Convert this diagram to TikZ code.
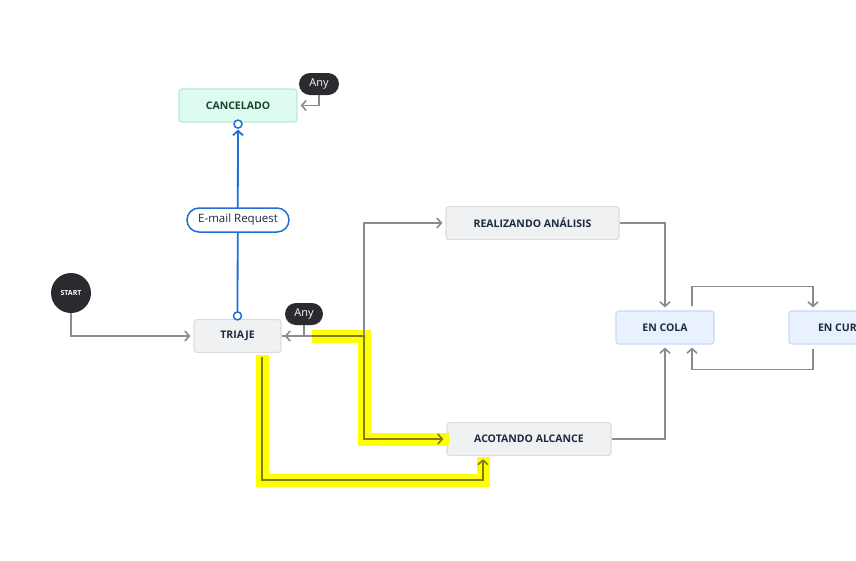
\documentclass[tikz,border=0pt]{standalone}
\usepackage{fontspec}
\setmainfont{Open Sans}
\usetikzlibrary{arrows.meta}
\definecolor{ink}{HTML}{1C2B41}
\definecolor{boxgray}{HTML}{F0F1F3}
\definecolor{boxline}{HTML}{DCDDE1}
\definecolor{mintfill}{HTML}{DDFBEF}
\definecolor{mintline}{HTML}{B3EDD5}
\definecolor{mintink}{HTML}{164532}
\definecolor{bluefill}{HTML}{E9F1FE}
\definecolor{blueline}{HTML}{C6DAF7}
\definecolor{linkblue}{HTML}{1F6FD6}
\definecolor{wire}{HTML}{8A8B92}
\definecolor{olivewire}{HTML}{7E7D10}
\definecolor{badgedark}{HTML}{2A2A2F}
\definecolor{marker}{HTML}{FFFF00}
\tikzset{state/.style={draw=boxline,fill=boxgray,line width=1.2pt,rounded corners=3pt,
           minimum height=33pt,text=ink,font=\bfseries\fontsize{10.5}{12}\selectfont},
         cancelstate/.style={state,draw=mintline,fill=mintfill,text=mintink},
         queuestate/.style={state,draw=blueline,fill=bluefill},
         startnode/.style={circle,fill=badgedark,minimum size=40pt,inner sep=0pt,
           text=white,font=\bfseries\fontsize{7}{8}\selectfont},
         badge/.style={fill=badgedark,rounded corners=11pt,minimum height=22pt,
           minimum width=40pt,inner sep=2pt,text=white,font=\fontsize{11}{12}\selectfont},
         guard/.style={draw=linkblue,fill=white,line width=1.5pt,rounded corners=12pt,
           minimum height=24pt,minimum width=102pt,inner sep=2pt,text=ink,
           font=\fontsize{11.5}{13}\selectfont},
         trans/.style={draw=wire,line width=1.6pt,
           -{Straight Barb[length=4.5pt,width=10pt]},shorten >=3pt},
         hilite/.style={draw=marker,line width=13pt},
         bluelink/.style={draw=linkblue,line width=1.8pt,
           -{Straight Barb[length=4.5pt,width=10pt]}},
         bluering/.style={draw=linkblue,fill=white,line width=1.5pt}
         }
\begin{document}
\begin{tikzpicture}[x=1pt,y=-1pt]
\useasboundingbox (0,0) rectangle (856,560);
\clip (0,0) rectangle (856,560);
% states
\node[startnode] (start) at (71,293) {START};
\node[state,minimum width=87pt] (triaje) at (237.5,336) {TRIAJE};
\node[cancelstate,minimum width=118pt] (cancel) at (238,105.5) {CANCELADO};
\node[state,minimum width=173pt] (real) at (532.5,223) {REALIZANDO ANÁLISIS};
\node[state,minimum width=164pt] (acot) at (529,439) {ACOTANDO ALCANCE};
\node[queuestate,minimum width=98pt] (encola) at (665,327.5) {EN COLA};
\node[queuestate,minimum width=111pt] (encurso) at (844.5,327.5) {EN CURSO};
\node[badge] (anyA) at (319,84) {Any};
\node[badge,minimum width=38pt] (anyB) at (304,314) {Any};
\coordinate (fork) at (364,336);
\coordinate (hlA) at (312,336);
\coordinate (drop) at (262,357);
\coordinate (low) at (262,480);
% highlighted paths
\draw[hilite] (hlA) -- (fork) |- ([xshift=3pt]acot.west);
\draw[hilite] ([yshift=2pt]drop) -- (low) -| ([xshift=-46pt,yshift=-1pt]acot.south);
% transitions
\draw[trans] (start) |- (triaje);
\draw[trans] (anyA.south) |- (cancel.east);
\draw[trans] (anyB.south) |- (triaje.east);
\draw[trans,-,shorten >=0pt] (triaje.east) -- (fork);
\draw[trans] (fork) |- (real.west);
\draw[trans,draw=olivewire] (hlA) -- (fork) |- (acot.west);
\draw[trans,draw=olivewire] (drop) -- (low) -| ([xshift=-46pt]acot.south);
\draw[trans] (real.east) -| (encola.north);
\draw[trans] (acot.east) -| (encola.south);
\draw[trans] ([xshift=27pt,yshift=4pt]encola.north) |- ([xshift=-31.5pt,yshift=24pt]encurso.north)
  -- ([xshift=-31.5pt]encurso.north);
\draw[trans] ([xshift=-31.5pt,yshift=-4pt]encurso.south) |- ([xshift=27pt,yshift=-25pt]encola.south)
  -- ([xshift=27pt]encola.south);
% blue link with guard
\draw[bluelink] ([yshift=3pt]triaje.north) -- ([yshift=-7pt]cancel.south);
\draw[bluering] ([yshift=3pt]triaje.north) circle (4pt);
\draw[bluering] ([yshift=-1.5pt]cancel.south) circle (4pt);
\node[guard] (email) at (238,220) {E-mail Request};
\end{tikzpicture}
\end{document}
